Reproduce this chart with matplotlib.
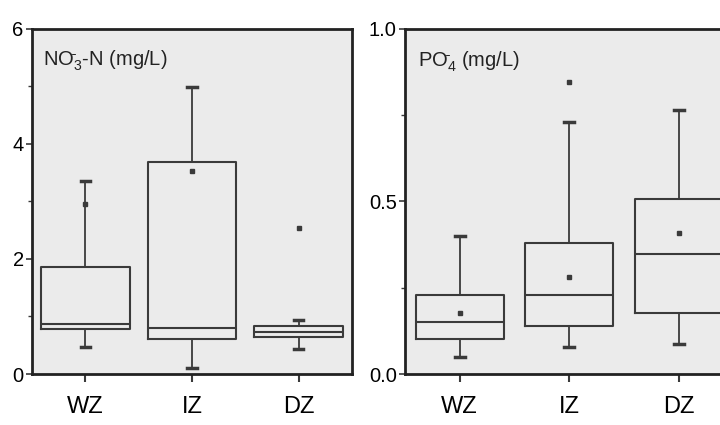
import numpy as np
import matplotlib
matplotlib.use('Agg')
import matplotlib.pyplot as plt

# zones
zones = ['WZ', 'IZ', 'DZ']

# NO3-N (mg/L) box stats
no3_whislo = [0.47, 0.10, 0.44]
no3_q1 = [0.78, 0.60, 0.64]
no3_med = [0.86, 0.80, 0.73]
no3_q3 = [1.86, 3.68, 0.83]
no3_whishi = [3.36, 4.98, 0.93]
no3_mean = [2.95, 3.53, 2.53]

# PO4 (mg/L) box stats
po4_whislo = [0.050, 0.079, 0.087]
po4_q1 = [0.100, 0.140, 0.178]
po4_med = [0.150, 0.230, 0.346]
po4_q3 = [0.229, 0.380, 0.506]
po4_whishi = [0.399, 0.728, 0.764]
po4_mean = [0.176, 0.282, 0.408]
po4_fliers = [[], [0.846], []]

plt.rcParams['font.family'] = ['Liberation Sans', 'DejaVu Sans']
plt.rcParams['mathtext.fontset'] = 'custom'
plt.rcParams['mathtext.rm'] = 'Liberation Sans'

dark = '#3a3a3a'
bg = '#ebebeb'


def make_stats(lo, q1, med, q3, hi, mean, fliers=None):
    out = []
    for i in range(len(med)):
        out.append(dict(whislo=lo[i], q1=q1[i], med=med[i], q3=q3[i],
                        whishi=hi[i], mean=mean[i],
                        fliers=fliers[i] if fliers else []))
    return out


def draw_panel(ax, stats, width, ylim, yticks, yminor, yfmt, label, lx, ly):
    ax.set_facecolor(bg)
    ax.bxp(stats, positions=[1, 2, 3], widths=width, showmeans=True,
           capwidths=0.09,
           boxprops=dict(color=dark, linewidth=1.5),
           medianprops=dict(color=dark, linewidth=1.5),
           whiskerprops=dict(color=dark, linewidth=1.3),
           capprops=dict(color=dark, linewidth=2.5),
           meanprops=dict(marker='s', markersize=3.5, markerfacecolor=dark,
                          markeredgecolor=dark),
           flierprops=dict(marker='s', markersize=3.5, markerfacecolor=dark,
                           markeredgecolor=dark))
    ax.set_xlim(0.5, 3.5)
    ax.set_ylim(*ylim)
    ax.set_yticks(yticks)
    ax.set_yticks(yminor, minor=True)
    ax.set_yticklabels([yfmt % v for v in yticks])
    ax.set_xticks([1, 2, 3])
    ax.set_xticklabels(zones)
    for s in ax.spines.values():
        s.set_linewidth(2)
        s.set_color('#222222')
    ax.tick_params(axis='y', which='major', length=4, width=1.2, labelsize=14.5, pad=2, color=dark)
    ax.tick_params(axis='y', which='minor', length=3, width=1.0, color=dark)
    ax.tick_params(axis='x', length=6, width=1.5, labelsize=17, pad=10, color=dark)
    ax.text(lx, ly, label, transform=ax.transAxes, fontsize=14.5, color='#222222',
            ha='left', va='baseline')


fig = plt.figure(figsize=(7.2, 4.25), dpi=100)

ax1 = fig.add_axes([32 / 720, 1 - 374 / 425, 320 / 720, 345.5 / 425])
draw_panel(ax1, make_stats(no3_whislo, no3_q1, no3_med, no3_q3, no3_whishi, no3_mean),
           0.83, (0, 6), [0, 2, 4, 6], [1, 3, 5], '%d',
           r'NO$_3^{\bar{}}$-N (mg/L)', 0.033, 0.892)

ax2 = fig.add_axes([405 / 720, 1 - 374 / 425, 328.5 / 720, 345.5 / 425])
draw_panel(ax2, make_stats(po4_whislo, po4_q1, po4_med, po4_q3, po4_whishi, po4_mean, po4_fliers),
           0.80, (0, 1), [0.0, 0.5, 1.0], [0.25, 0.75], '%.1f',
           r'PO$_4^{\bar{}}$ (mg/L)', 0.04, 0.889)

fig.savefig('out.png', dpi=100)
